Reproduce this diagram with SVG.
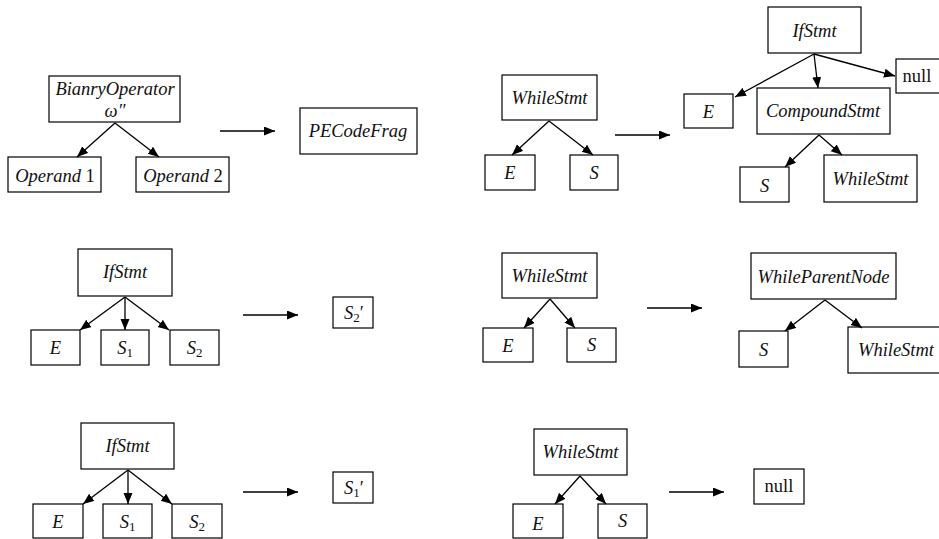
<svg xmlns="http://www.w3.org/2000/svg" width="939" height="539" viewBox="0 0 939 539">
<style>
.b{fill:#fff;stroke:#000;stroke-width:1.2}
text{font-family:'Liberation Serif','Times New Roman','DejaVu Serif',serif;font-size:18.5px;text-anchor:middle;fill:#111}
.i{font-style:italic}
.sub{font-size:13px;font-style:normal}
#edges line{stroke:#000;stroke-width:1.3;marker-end:url(#ah)}
</style>
<defs>
<marker id="ah" markerUnits="userSpaceOnUse" markerWidth="12" markerHeight="10" refX="11" refY="4.5" orient="auto">
<path d="M0,0 L11,4.5 L0,9 Z" fill="#000"/>
</marker>
</defs>
<rect width="939" height="539" fill="#fff"/>
<!-- Panel 1 -->
<g id="n-binop"><rect class="b" x="49" y="76" width="131" height="46"/><text class="i" x="115" y="95">BianryOperator</text><text class="i" x="115" y="117">ω″</text></g>
<g id="n-op1"><rect class="b" x="8" y="157" width="93" height="35"/><text x="55" y="182"><tspan class="i">Operand</tspan> 1</text></g>
<g id="n-op2"><rect class="b" x="136" y="157" width="93" height="35"/><text x="183" y="182"><tspan class="i">Operand</tspan> 2</text></g>
<g id="n-pecode"><rect class="b" x="300" y="108" width="117" height="46"/><text class="i" x="358" y="137">PECodeFrag</text></g>
<!-- Panel 2 -->
<g id="n-while1"><rect class="b" x="502" y="75" width="95" height="45"/><text class="i" x="549.5" y="104">WhileStmt</text></g>
<g id="n-e1"><rect class="b" x="485" y="155" width="50" height="35"/><text class="i" x="510" y="179">E</text></g>
<g id="n-s1"><rect class="b" x="570" y="155" width="48" height="35"/><text class="i" x="594" y="179">S</text></g>
<g id="n-if1"><rect class="b" x="768" y="7" width="93" height="46"/><text class="i" x="814.5" y="37">IfStmt</text></g>
<g id="n-e2"><rect class="b" x="684" y="94" width="49" height="34"/><text class="i" x="708.5" y="118">E</text></g>
<g id="n-comp"><rect class="b" x="757" y="88" width="133" height="46"/><text class="i" x="823" y="117">CompoundStmt</text></g>
<g id="n-null1"><rect class="b" x="896" y="59" width="50" height="34"/><text x="917" y="82">null</text></g>
<g id="n-s2"><rect class="b" x="740" y="167" width="49" height="35"/><text class="i" x="764.5" y="192">S</text></g>
<g id="n-while2"><rect class="b" x="824" y="155" width="93" height="47"/><text class="i" x="870.5" y="185">WhileStmt</text></g>
<!-- Panel 3 -->
<g id="n-if2"><rect class="b" x="78" y="249" width="94" height="47"/><text class="i" x="125" y="278">IfStmt</text></g>
<g id="n-e3"><rect class="b" x="31" y="330" width="49" height="35"/><text class="i" x="55.5" y="354">E</text></g>
<g id="n-s1a"><rect class="b" x="101" y="330" width="48" height="35"/><text x="125" y="354"><tspan class="i">S</tspan><tspan class="sub" dy="3">1</tspan></text></g>
<g id="n-s2a"><rect class="b" x="170" y="330" width="49" height="35"/><text x="194.5" y="354"><tspan class="i">S</tspan><tspan class="sub" dy="3">2</tspan></text></g>
<g id="n-s2p"><rect class="b" x="333" y="297" width="40" height="31"/><text x="354" y="319"><tspan class="i">S</tspan><tspan class="sub" dy="3">2</tspan><tspan dy="-3">′</tspan></text></g>
<!-- Panel 4 -->
<g id="n-while3"><rect class="b" x="502" y="253" width="95" height="45"/><text class="i" x="549.5" y="282">WhileStmt</text></g>
<g id="n-e4"><rect class="b" x="483" y="328" width="50" height="34"/><text class="i" x="508" y="352">E</text></g>
<g id="n-s3"><rect class="b" x="567" y="328" width="49" height="34"/><text class="i" x="591.5" y="351">S</text></g>
<g id="n-wpn"><rect class="b" x="751" y="253" width="145" height="46"/><text class="i" x="823.5" y="283">WhileParentNode</text></g>
<g id="n-s4"><rect class="b" x="739" y="331" width="49" height="36"/><text class="i" x="763.5" y="356">S</text></g>
<g id="n-while4"><rect class="b" x="848" y="327" width="96" height="46"/><text class="i" x="896" y="356">WhileStmt</text></g>
<!-- Panel 5 -->
<g id="n-if3"><rect class="b" x="81" y="423" width="93" height="46"/><text class="i" x="127.5" y="452">IfStmt</text></g>
<g id="n-e5"><rect class="b" x="33" y="504" width="50" height="34"/><text class="i" x="58" y="528">E</text></g>
<g id="n-s1b"><rect class="b" x="103" y="504" width="49" height="34"/><text x="127.5" y="528"><tspan class="i">S</tspan><tspan class="sub" dy="3">1</tspan></text></g>
<g id="n-s2b"><rect class="b" x="172" y="504" width="50" height="34"/><text x="197" y="528"><tspan class="i">S</tspan><tspan class="sub" dy="3">2</tspan></text></g>
<g id="n-s1p"><rect class="b" x="333" y="472" width="40" height="31"/><text x="354" y="494"><tspan class="i">S</tspan><tspan class="sub" dy="3">1</tspan><tspan dy="-3">′</tspan></text></g>
<!-- Panel 6 -->
<g id="n-while5"><rect class="b" x="534" y="429" width="93" height="46"/><text class="i" x="580.5" y="458">WhileStmt</text></g>
<g id="n-e6"><rect class="b" x="513" y="504" width="50" height="34"/><text class="i" x="538" y="530">E</text></g>
<g id="n-s5"><rect class="b" x="598" y="504" width="49" height="34"/><text class="i" x="622.5" y="527">S</text></g>
<g id="n-null2"><rect class="b" x="754" y="469" width="50" height="35"/><text x="779" y="492">null</text></g>
<g id="edges">
<line x1="115" y1="123" x2="77" y2="157"/>
<line x1="115" y1="123" x2="159" y2="157"/>
<line x1="220" y1="131" x2="275" y2="131"/>
<line x1="549" y1="121" x2="512" y2="155"/>
<line x1="549" y1="121" x2="593" y2="155"/>
<line x1="615" y1="135" x2="670" y2="135"/>
<line x1="814" y1="54" x2="735" y2="97"/>
<line x1="814" y1="54" x2="818" y2="88"/>
<line x1="814" y1="54" x2="895" y2="76"/>
<line x1="819" y1="135" x2="785" y2="167"/>
<line x1="819" y1="135" x2="842" y2="155"/>
<line x1="125" y1="297" x2="80" y2="330"/>
<line x1="125" y1="297" x2="125" y2="330"/>
<line x1="125" y1="297" x2="169" y2="330"/>
<line x1="243" y1="315" x2="298" y2="315"/>
<line x1="550" y1="299" x2="524" y2="328"/>
<line x1="550" y1="299" x2="575" y2="328"/>
<line x1="647" y1="308" x2="702" y2="308"/>
<line x1="825" y1="300" x2="785" y2="331"/>
<line x1="825" y1="300" x2="862" y2="328"/>
<line x1="128" y1="470" x2="83" y2="504"/>
<line x1="128" y1="470" x2="128" y2="504"/>
<line x1="128" y1="470" x2="172" y2="504"/>
<line x1="243" y1="492" x2="298" y2="492"/>
<line x1="580" y1="476" x2="555" y2="504"/>
<line x1="580" y1="476" x2="606" y2="504"/>
<line x1="669" y1="492" x2="724" y2="492"/>
</g>
</svg>
